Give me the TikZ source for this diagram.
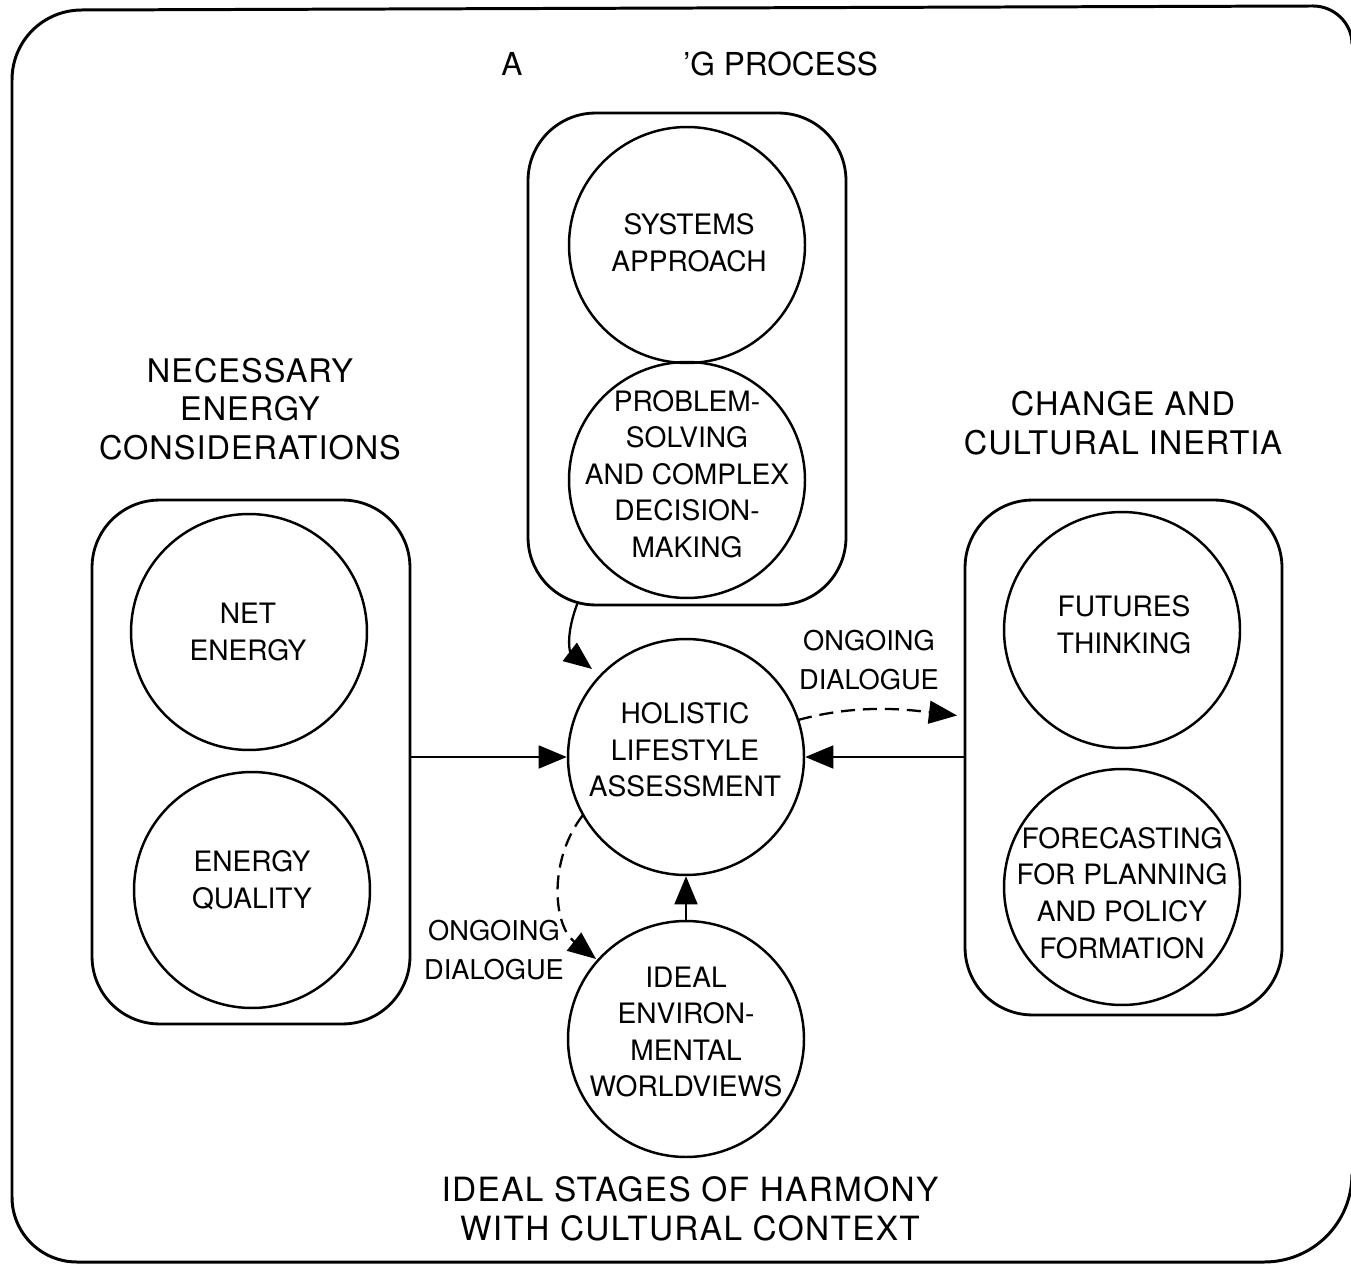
\documentclass[tikz,border=0pt]{standalone}
\usepackage{fontspec}
\setmainfont{TeX Gyre Heros}
\usetikzlibrary{arrows.meta,calc}
\begin{document}
\begin{tikzpicture}[x=0.02cm,y=-0.02cm,
  frame/.style={line width=1.7pt},
  group/.style={draw, rectangle, rounded corners=1.35cm, line width=1.6pt, inner sep=0pt, outer sep=0pt},
  topic/.style={draw, circle, line width=1.4pt, minimum size=4.72cm, inner sep=0pt},
  topictext/.style={align=center, inner sep=0pt, font=\fontsize{16}{20.8}\selectfont},
  titletext/.style={inner sep=0pt, font=\fontsize{18}{22}\selectfont},
  heading/.style={align=center, inner sep=0pt, font=\fontsize{18.5}{22}\selectfont\addfontfeature{LetterSpace=3}},
  talk/.style={align=center, inner sep=0pt, font=\fontsize{15.5}{22.5}\selectfont},
  link/.style={line width=1.3pt, -{Triangle[length=16pt,width=13pt]}},
  dialog/.style={link, dash pattern=on 8pt off 4.5pt}
]
\useasboundingbox (0,0) rectangle (1351,1266);
\begin{scope}
\clip (0,0) rectangle (1351,1266);
% outer frame; its right-hand side runs along the page edge
\draw[frame] (1352,1174) .. controls (1352,1223) and (1313,1262) .. (1264,1262)
  -- (77,1262) .. controls (41,1262) and (12,1233) .. (12,1197)
  -- (12,80) .. controls (12,41) and (43,10) .. (82,10)
  -- (1313,6) .. controls (1334,6) and (1352,23) .. (1352,44);
\end{scope}

% title (partly missing letters)
\node[titletext, anchor=base] (tA) at (512,76) {A};
\node[titletext, anchor=base west] (tB) at (683,76) {'G PROCESS};

% group boxes
\node[group, minimum width=6.36cm, minimum height=9.84cm] (proc) at (687,359) {};
\node[group, minimum width=6.36cm, minimum height=10.48cm] (energy) at (251,762) {};
\node[group, minimum width=6.34cm, minimum height=10.3cm] (change) at (1123.5,757.5) {};

% circles
\node[topic] (sys) at (687,245) {};
\node[topic] (prob) at (687,480) {};
\node[topic] (net) at (249,632) {};
\node[topic] (qual) at (252,890) {};
\node[topic] (fut) at (1122,630) {};
\node[topic] (fore) at (1122,887) {};
\node[topic] (hol) at (686,757) {};
\node[topic] (ideal) at (686,1039) {};

% circle texts
\node[topictext] (sysT) at (689,243) {SYSTEMS\\APPROACH};
\node[topictext] (probT) at (687,474) {PROBLEM-\\SOLVING\\AND COMPLEX\\DECISION-\\MAKING};
\node[topictext] (netT) at (248,632) {NET\\ENERGY};
\node[topictext] (qualT) at (252,880) {ENERGY\\QUALITY};
\node[topictext] (futT) at (1124,625) {FUTURES\\THINKING};
\node[topictext] (foreT) at (1122,893) {FORECASTING\\FOR PLANNING\\AND POLICY\\FORMATION};
\node[topictext] (holT) at (685,750) {HOLISTIC\\LIFESTYLE\\ASSESSMENT};
\node[topictext] (idealT) at (686,1032) {IDEAL\\ENVIRON-\\MENTAL\\WORLDVIEWS};

% headings
\node[heading] (hEnergy) at (250,409) {NECESSARY\\ENERGY\\CONSIDERATIONS};
\node[heading] (hChange) at (1123,423) {CHANGE AND\\CULTURAL INERTIA};
\node[heading, font=\fontsize{19}{22}\selectfont\addfontfeature{LetterSpace=4}] (hStages) at (690,1209) {IDEAL STAGES OF HARMONY\\WITH CULTURAL CONTEXT};

% dialogue labels
\node[talk] (dRight) at (869,660) {ONGOING\\DIALOGUE};
\node[talk] (dLeft) at (494,950) {ONGOING\\DIALOGUE};

% connectors
\draw[link] (energy.east |- hol) -- (hol.west);
\draw[link] (change.west |- hol) -- (hol.east);
\draw[link] (ideal.north) -- (hol.south);
\coordinate (pStart) at ($(proc.south)+(-109,-3)$);
\coordinate (pEnd) at ($(hol.center)+(-94,-88)$);
\draw[link] (pStart) .. controls (565,635) and (570,652) .. (pEnd);
\coordinate (rStart) at ($(hol.center)+(112,-37)$);
\coordinate (rEnd) at ($(change.west)+(-8,-42)$);
\draw[dialog] (rStart) .. controls (860,703) and (910,710) .. (rEnd);
\coordinate (lStart) at ($(hol.center)+(-103,58)$);
\coordinate (lEnd) at ($(ideal.center)+(-90,-80)$);
\draw[dialog] (lStart) .. controls (548,860) and (553,925) .. (lEnd);
\end{tikzpicture}
\end{document}
